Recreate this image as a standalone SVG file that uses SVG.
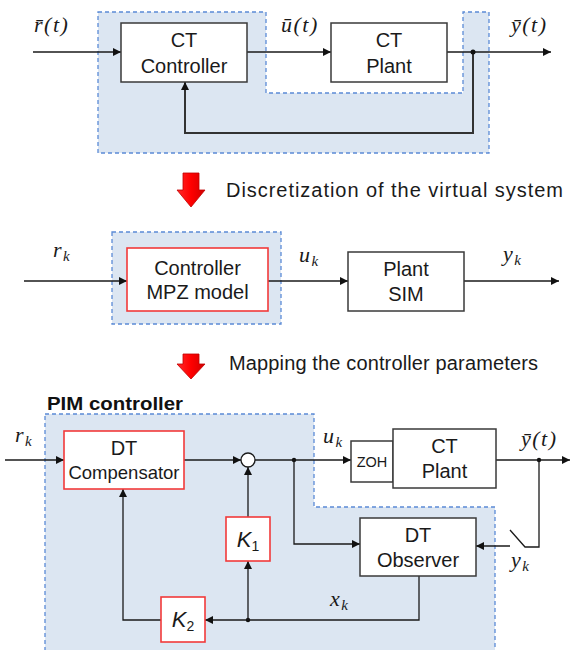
<svg xmlns="http://www.w3.org/2000/svg" width="571" height="650" viewBox="0 0 571 650">
<defs>
<marker id="ah" viewBox="0 0 10 10" refX="10" refY="5" markerWidth="9" markerHeight="8" markerUnits="userSpaceOnUse" orient="auto">
<path d="M0,0 L10,5 L0,10 z" fill="#111"/>
</marker>
<linearGradient id="rg" x1="0" y1="0" x2="1" y2="0">
<stop offset="0" stop-color="#ff2a2a"/><stop offset="0.5" stop-color="#ff0000"/><stop offset="1" stop-color="#d00000"/>
</linearGradient>
</defs>
<style>
.shade{fill:#dce6f2;stroke:#5b8bd6;stroke-width:1.3;stroke-dasharray:4 3}
.box{fill:#fff;stroke:#3a3a3a;stroke-width:1.5}
.rbox{fill:#fff;stroke:#f23a3a;stroke-width:1.6}
.ln{fill:none;stroke:#1a1a1a;stroke-width:1.3}
.arr{marker-end:url(#ah)}
.t{font-family:"Liberation Sans",Arial,sans-serif;font-size:20px;fill:#1a1a1a;text-anchor:middle}
.m{font-family:"Liberation Serif","Times New Roman",serif;font-style:italic;font-size:22px;fill:#1a1a1a;letter-spacing:1.5px}
.cap{font-family:"Liberation Sans",Arial,sans-serif;font-size:20px;fill:#1a1a1a}
.dot{fill:#111}
.red{fill:url(#rg);stroke:#c00000;stroke-width:0.8}
</style>

<!-- shaded regions -->
<path class="shade" d="M98,12 H266 V93 H463 V12 H489 V153 H98 Z"/>
<rect class="shade" x="112" y="232" width="169" height="92"/>
<path class="shade" d="M45,414 H314 V507 H495 V653 H45 Z"/>

<!-- connectors -->
<g id="connectors">
<path class="ln arr" d="M33,52 H121"/>
<path class="ln arr" d="M247,52 H331"/>
<path class="ln arr" d="M447,52 H551"/>
<path class="ln arr" d="M473,52 V133 H185 V82" style="stroke-width:2;stroke:#333"/>
<circle class="dot" cx="473" cy="52" r="2.5"/>

<path class="ln arr" d="M24,281 H127"/>
<path class="ln arr" d="M268,281 H348"/>
<path class="ln arr" d="M464,281 H559"/>

<path class="ln arr" d="M5,460 H64"/>
<path class="ln arr" d="M184,460 H241"/>
<path class="ln arr" d="M255,460 H351"/>
<circle class="dot" cx="294" cy="460" r="2.2"/>
<path class="ln arr" d="M294,460 V544 H360"/>
<path class="ln arr" d="M496,460 H570"/>
<circle class="dot" cx="539" cy="460" r="2.2"/>
<path class="ln" d="M539,460 V547 H525 L510,530"/>
<path class="ln arr" d="M510,546 H476"/>
<path class="ln arr" d="M419,576 V620 H205"/>
<circle class="dot" cx="248" cy="620" r="2.2"/>
<path class="ln arr" d="M248,620 V561"/>
<path class="ln arr" d="M248,517 V467"/>
<path class="ln arr" d="M161,620 H123 V489"/>
</g>

<!-- top row -->
<g id="ct-controller">
<rect class="box" x="121" y="23" width="126" height="59"/>
<text class="t" x="184" y="47">CT</text>
<text class="t" x="184" y="73">Controller</text>
</g>
<g id="ct-plant">
<rect class="box" x="331" y="23" width="116" height="59"/>
<text class="t" x="389" y="47">CT</text>
<text class="t" x="389" y="73">Plant</text>
</g>
<text class="m" x="34" y="32">r̄(t)</text>
<text class="m" x="281" y="32">ū(t)</text>
<text class="m" x="511" y="32">ȳ(t)</text>

<!-- arrow 1 -->
<g id="step1">
<path class="red" d="M183,173 H199 V190 H205 L191,207 L177,190 H183 Z"/>
<text class="cap" x="226" y="197" textLength="337" lengthAdjust="spacing">Discretization of the virtual system</text>
</g>

<!-- middle row -->
<g id="mpz-controller">
<rect class="rbox" x="127" y="248" width="141" height="63"/>
<text class="t" x="197.5" y="275">Controller</text>
<text class="t" x="197.5" y="299">MPZ model</text>
</g>
<g id="plant-sim">
<rect class="box" x="348" y="252" width="116" height="59"/>
<text class="t" x="406" y="276">Plant</text>
<text class="t" x="406" y="301">SIM</text>
</g>
<text class="m" x="53" y="257">r<tspan font-size="15" dy="4">k</tspan></text>
<text class="m" x="299" y="262">u<tspan font-size="15" dy="4">k</tspan></text>
<text class="m" x="503" y="261">y<tspan font-size="15" dy="4">k</tspan></text>

<!-- arrow 2 -->
<g id="step2">
<path class="red" d="M183,354 H199 V364 H205 L191,379 L177,364 H183 Z"/>
<text class="cap" x="229" y="370" textLength="309" lengthAdjust="spacing">Mapping the controller parameters</text>
</g>

<!-- bottom -->
<text x="47" y="410" style="font-family:'Liberation Sans',Arial,sans-serif;font-weight:bold;font-size:19px;fill:#111" textLength="136" lengthAdjust="spacingAndGlyphs">PIM controller</text>
<g id="dt-compensator">
<rect class="rbox" x="64" y="431" width="120" height="58"/>
<text class="t" x="124" y="455">DT</text>
<text class="t" x="124" y="479" style="font-size:18.5px">Compensator</text>
</g>
<g id="sum">
<circle cx="248" cy="460" r="7" fill="#fff" stroke="#1a1a1a" stroke-width="1.3"/>
</g>
<g id="zoh">
<rect class="box" x="351" y="441" width="42" height="41"/>
<text class="t" x="372" y="467" style="font-size:14.5px">ZOH</text>
</g>
<g id="ct-plant-2">
<rect class="box" x="393" y="429" width="103" height="59"/>
<text class="t" x="444.5" y="453">CT</text>
<text class="t" x="444.5" y="478">Plant</text>
</g>
<g id="dt-observer">
<rect class="box" x="360" y="518" width="116" height="58"/>
<text class="t" x="418" y="542">DT</text>
<text class="t" x="418" y="567">Observer</text>
</g>
<g id="k1">
<rect class="rbox" x="226" y="517" width="44" height="44"/>
<text class="t" x="248" y="547" style="font-size:22px"><tspan font-style="italic">K</tspan><tspan font-size="14" dy="4">1</tspan></text>
</g>
<g id="k2">
<rect class="rbox" x="161" y="597" width="44" height="45"/>
<text class="t" x="183" y="627" style="font-size:22px"><tspan font-style="italic">K</tspan><tspan font-size="14" dy="4">2</tspan></text>
</g>
<text class="m" x="15" y="442">r<tspan font-size="15" dy="4">k</tspan></text>
<text class="m" x="323" y="443">u<tspan font-size="15" dy="4">k</tspan></text>
<text class="m" x="521" y="446">ȳ(t)</text>
<text class="m" x="511" y="567">y<tspan font-size="15" dy="4">k</tspan></text>
<text class="m" x="330" y="606">x<tspan font-size="15" dy="4">k</tspan></text>
</svg>
